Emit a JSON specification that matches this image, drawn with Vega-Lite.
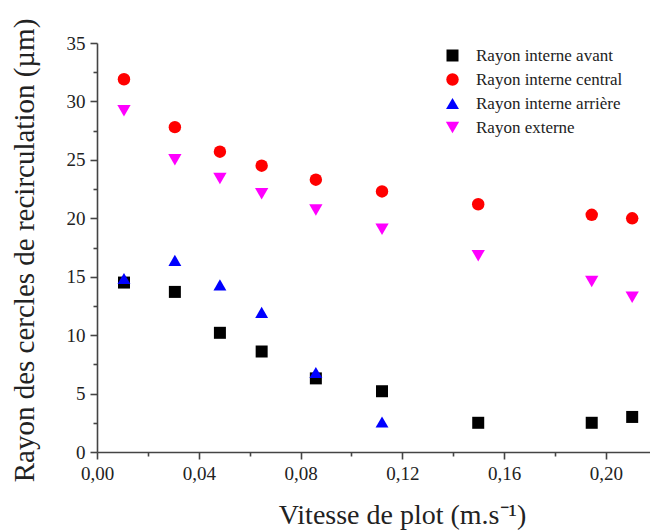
{
  "$schema": "https://vega.github.io/schema/vega-lite/v6.json",
  "width": 553,
  "height": 409,
  "autosize": {"type": "none"},
  "padding": {"left": 97, "top": 43, "right": 0, "bottom": 79},
  "background": "white",
  "config": {
    "view": {"stroke": null},
    "font": "Times New Roman",
    "axis": {"labelFont": "Times New Roman", "titleFont": "Times New Roman"},
    "legend": {"labelFont": "Times New Roman", "titleFont": "Times New Roman"}
  },
  "data": {
    "values": [
      {"v": 0.0106, "r": 14.5, "s": "Rayon interne avant"},
      {"v": 0.0306, "r": 13.7, "s": "Rayon interne avant"},
      {"v": 0.0483, "r": 10.2, "s": "Rayon interne avant"},
      {"v": 0.0647, "r": 8.6, "s": "Rayon interne avant"},
      {"v": 0.0860, "r": 6.3, "s": "Rayon interne avant"},
      {"v": 0.1120, "r": 5.2, "s": "Rayon interne avant"},
      {"v": 0.1498, "r": 2.5, "s": "Rayon interne avant"},
      {"v": 0.1944, "r": 2.5, "s": "Rayon interne avant"},
      {"v": 0.2103, "r": 3.0, "s": "Rayon interne avant"},
      {"v": 0.0106, "r": 31.9, "s": "Rayon interne central"},
      {"v": 0.0306, "r": 27.8, "s": "Rayon interne central"},
      {"v": 0.0483, "r": 25.7, "s": "Rayon interne central"},
      {"v": 0.0647, "r": 24.5, "s": "Rayon interne central"},
      {"v": 0.0860, "r": 23.3, "s": "Rayon interne central"},
      {"v": 0.1120, "r": 22.3, "s": "Rayon interne central"},
      {"v": 0.1498, "r": 21.2, "s": "Rayon interne central"},
      {"v": 0.1944, "r": 20.3, "s": "Rayon interne central"},
      {"v": 0.2103, "r": 20.0, "s": "Rayon interne central"},
      {"v": 0.0106, "r": 14.85, "s": "Rayon interne arrière"},
      {"v": 0.0306, "r": 16.4, "s": "Rayon interne arrière"},
      {"v": 0.0483, "r": 14.3, "s": "Rayon interne arrière"},
      {"v": 0.0647, "r": 11.95, "s": "Rayon interne arrière"},
      {"v": 0.0860, "r": 6.8, "s": "Rayon interne arrière"},
      {"v": 0.1120, "r": 2.57, "s": "Rayon interne arrière"},
      {"v": 0.0106, "r": 29.2, "s": "Rayon externe"},
      {"v": 0.0306, "r": 25.0, "s": "Rayon externe"},
      {"v": 0.0483, "r": 23.4, "s": "Rayon externe"},
      {"v": 0.0647, "r": 22.1, "s": "Rayon externe"},
      {"v": 0.0860, "r": 20.7, "s": "Rayon externe"},
      {"v": 0.1120, "r": 19.07, "s": "Rayon externe"},
      {"v": 0.1498, "r": 16.8, "s": "Rayon externe"},
      {"v": 0.1944, "r": 14.6, "s": "Rayon externe"},
      {"v": 0.2103, "r": 13.25, "s": "Rayon externe"}
    ]
  },
  "mark": {"type": "point", "filled": true, "opacity": 1, "strokeWidth": 0},
  "encoding": {
    "x": {
      "field": "v",
      "type": "quantitative",
      "scale": {"domain": [0, 0.2173], "nice": false, "zero": false},
      "axis": {
        "title": "Vitesse de plot (m.s⁻¹)",
        "titleFontSize": 28,
        "titleFontWeight": "normal",
        "titleColor": "#222222",
        "titleX": 305,
        "titleY": 71,
        "titleAlign": "center",
        "titleBaseline": "alphabetic",
        "values": [0, 0.02, 0.04, 0.06, 0.08, 0.1, 0.12, 0.14, 0.16, 0.18, 0.2],
        "labelExpr": "abs(round(datum.value*100)) % 4 != 0 ? '' : replace(format(datum.value, '.2f'), '.', ',')",
        "labelFontSize": 19,
        "labelColor": "#222222",
        "labelPadding": 5,
        "labelOverlap": false,
        "labelFlush": false,
        "grid": false,
        "domainColor": "#444444",
        "domainWidth": 1.6,
        "tickColor": "#444444",
        "tickWidth": 1.6,
        "tickSize": {"condition": {"test": "abs(round(datum.value*100)) % 4 != 0", "value": 4}, "value": 7}
      }
    },
    "y": {
      "field": "r",
      "type": "quantitative",
      "scale": {"domain": [0, 35], "nice": false},
      "axis": {
        "title": "Rayon des cercles de recirculation (µm)",
        "titleFontSize": 29,
        "titleFontWeight": "normal",
        "titleColor": "#222222",
        "titleAngle": -90,
        "titleX": -64,
        "titleY": 207,
        "titleAlign": "center",
        "titleBaseline": "alphabetic",
        "values": [0, 2.5, 5, 7.5, 10, 12.5, 15, 17.5, 20, 22.5, 25, 27.5, 30, 32.5, 35],
        "labelExpr": "datum.value % 5 != 0 ? '' : format(datum.value, 'd')",
        "labelFontSize": 19,
        "labelColor": "#222222",
        "labelPadding": 5,
        "labelOverlap": false,
        "labelFlush": false,
        "grid": false,
        "domainColor": "#444444",
        "domainWidth": 1.6,
        "tickColor": "#444444",
        "tickWidth": 1.6,
        "tickSize": {"condition": {"test": "datum.value % 5 != 0", "value": 4}, "value": 7}
      }
    },
    "color": {
      "field": "s",
      "type": "nominal",
      "scale": {
        "domain": ["Rayon interne avant", "Rayon interne central", "Rayon interne arrière", "Rayon externe"],
        "range": ["#000000", "#ff0000", "#0000ff", "#ff00ff"]
      },
      "legend": {
        "title": null,
        "orient": "none",
        "legendX": 347,
        "legendY": 4,
        "padding": 0,
        "labelFontSize": 17,
        "labelColor": "#222222",
        "labelOffset": 15,
        "rowPadding": 6,
        "symbolStrokeWidth": 0,
        "symbolOpacity": 1
      }
    },
    "shape": {
      "field": "s",
      "type": "nominal",
      "scale": {
        "domain": ["Rayon interne avant", "Rayon interne central", "Rayon interne arrière", "Rayon externe"],
        "range": ["square", "circle", "triangle-up", "triangle-down"]
      },
      "legend": {
        "title": null,
        "orient": "none",
        "legendX": 347,
        "legendY": 4,
        "padding": 0,
        "labelFontSize": 17,
        "labelColor": "#222222",
        "labelOffset": 15,
        "rowPadding": 6,
        "symbolStrokeWidth": 0,
        "symbolOpacity": 1
      }
    },
    "size": {
      "field": "s",
      "type": "nominal",
      "scale": {
        "domain": ["Rayon interne avant", "Rayon interne central", "Rayon interne arrière", "Rayon externe"],
        "range": [144, 177, 256, 256]
      },
      "legend": {
        "title": null,
        "orient": "none",
        "legendX": 347,
        "legendY": 4,
        "padding": 0,
        "labelFontSize": 17,
        "labelColor": "#222222",
        "labelOffset": 15,
        "rowPadding": 6,
        "symbolStrokeWidth": 0,
        "symbolOpacity": 1
      }
    }
  }
}
